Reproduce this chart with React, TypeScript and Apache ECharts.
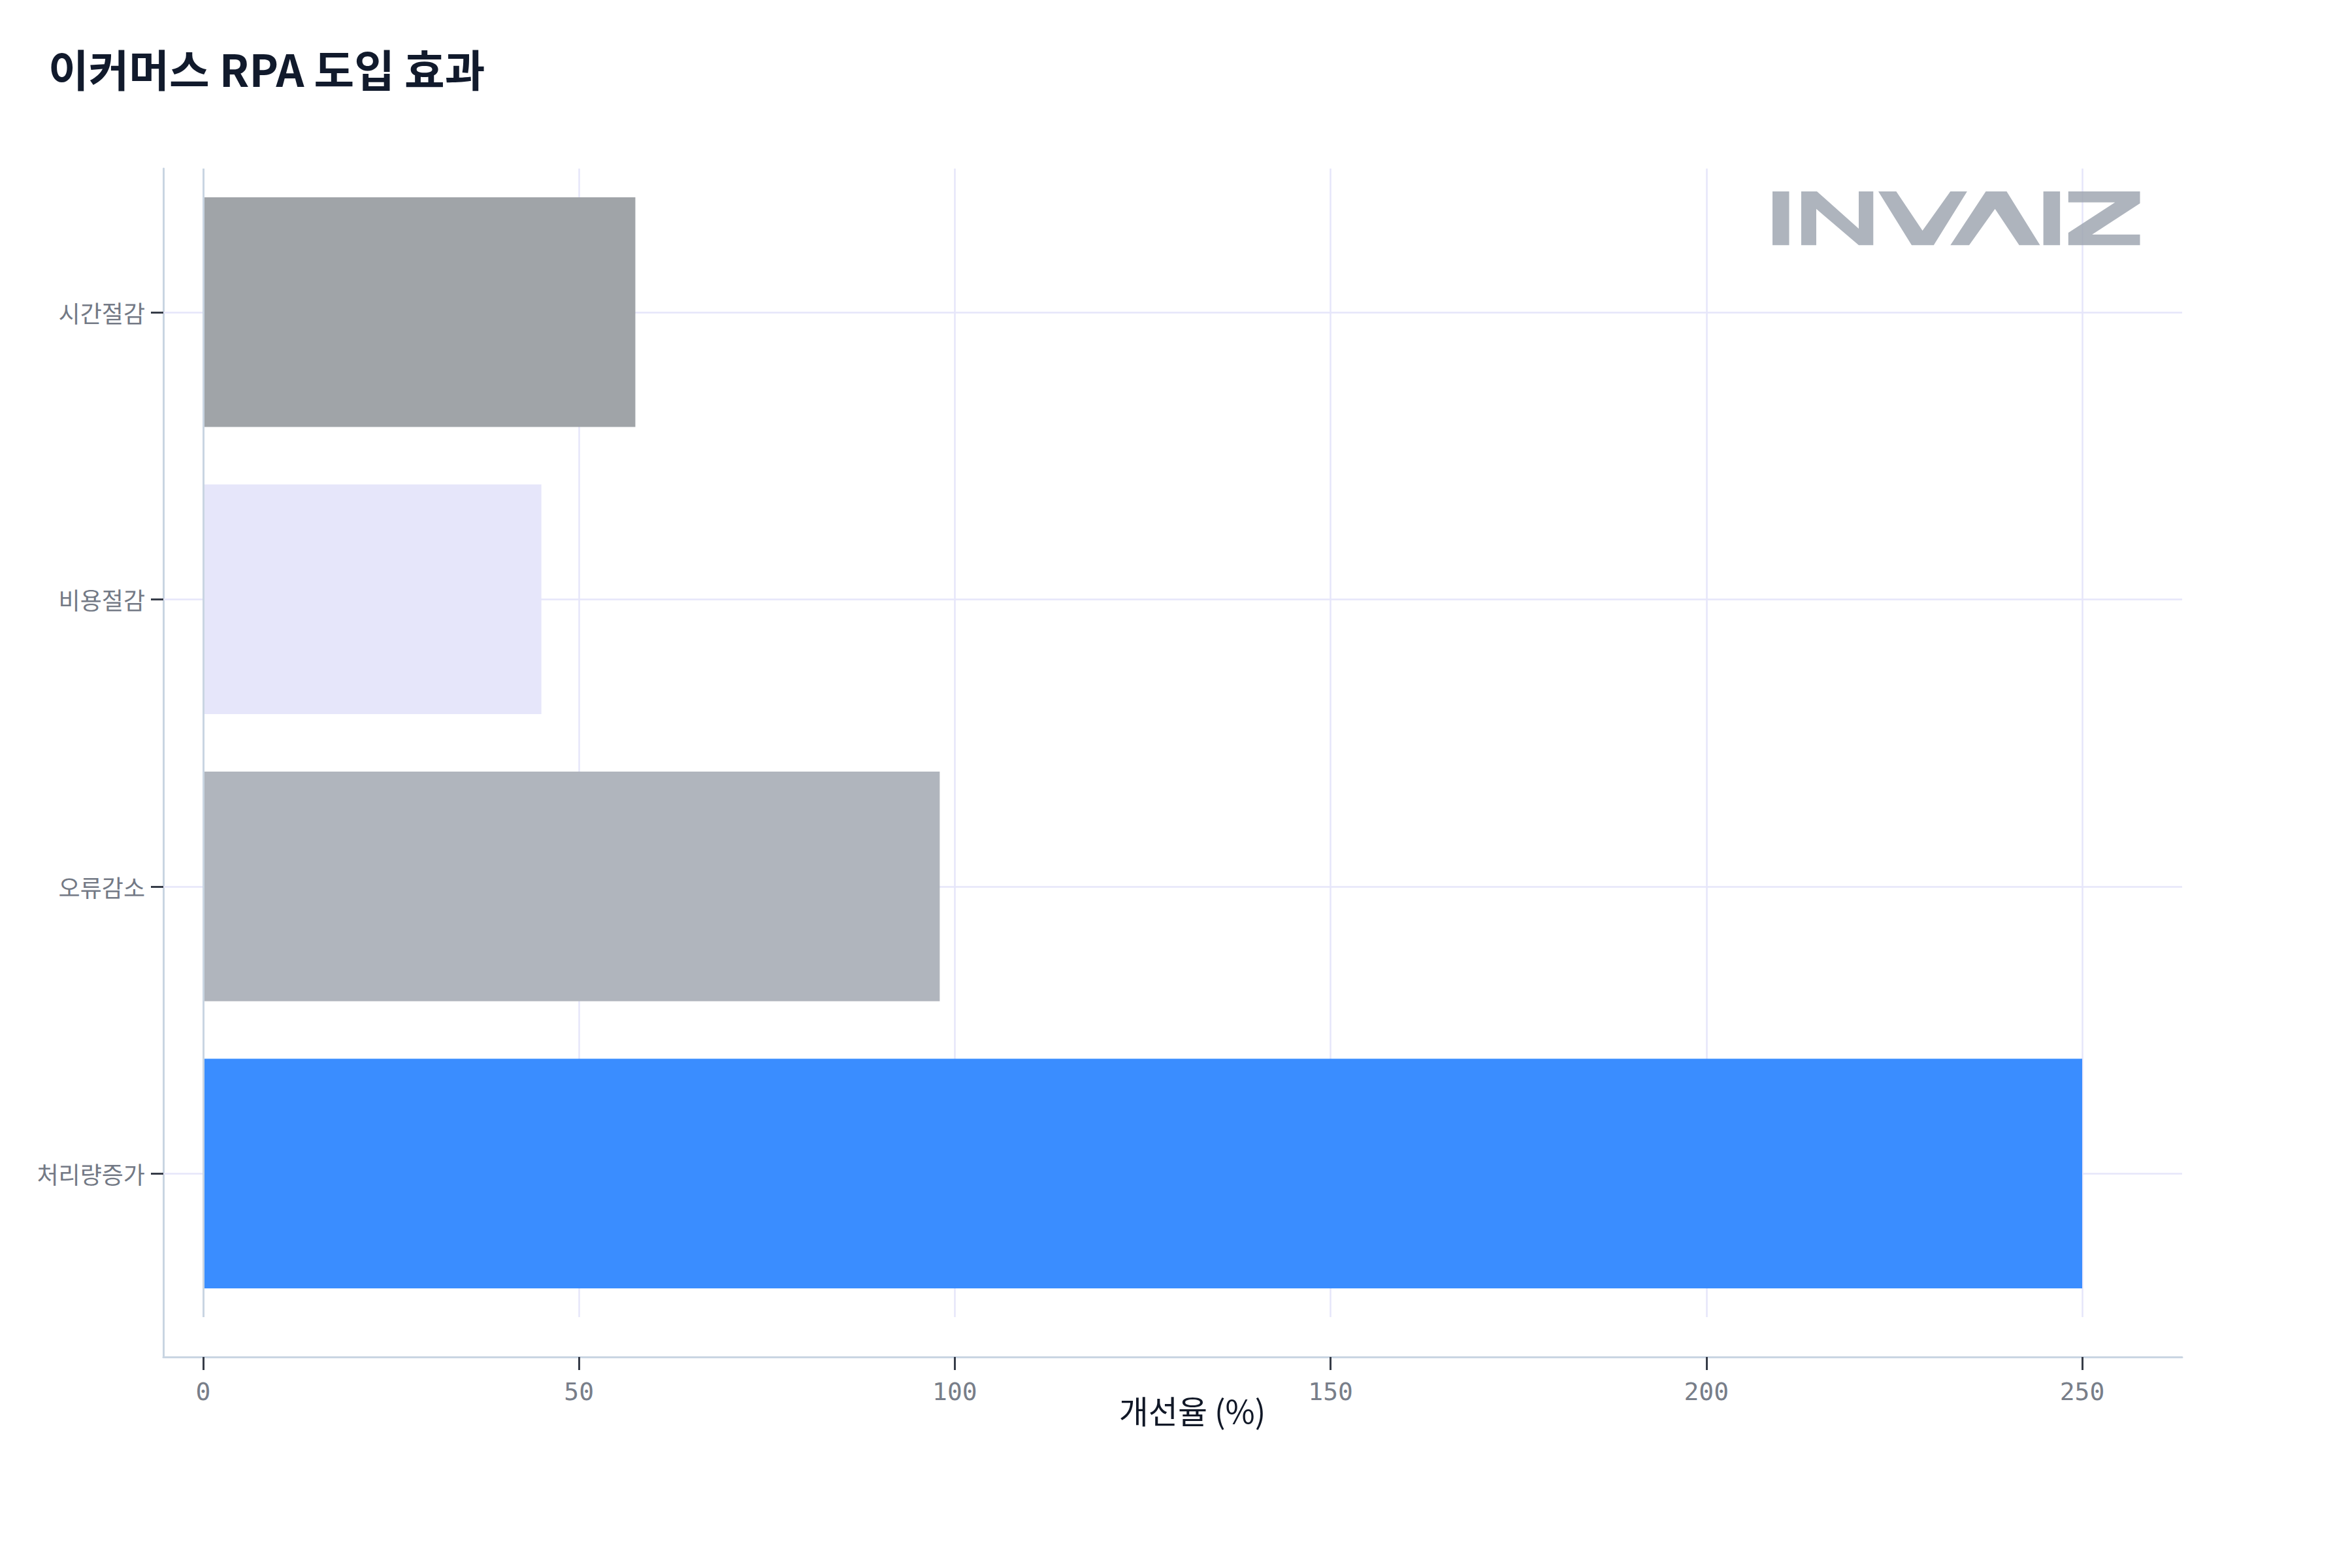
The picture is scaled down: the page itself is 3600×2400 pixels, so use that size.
import React, { useEffect, useRef } from "react";
import * as echarts from "echarts";

const titleText = "이커머스 RPA 도입 효과";
const xAxisTitle = "개선율 (%)";
const categories = ["시간절감", "비용절감", "오류감소", "처리량증가"];
const values = [57.5, 45, 98, 250];
const barColors = ["#A0A4A8", "#E6E6FA", "#B0B5BD", "#3A8DFF"];
const xTicks = [0, 50, 100, 150, 200, 250];
const xRange = [-5.3, 263.3];
const logoText = "INVAIZ";

const logoPolys: number[][][] = [
  [[0, 0], [25.5, 0], [25.5, 82.3], [0, 82.3]],
  [[44, 0], [68, 0], [132, 57], [132, 0], [154.3, 0], [154.3, 82.3], [132, 82.3], [67, 26.7], [67, 82.3], [44, 82.3]],
  [[162, 0], [189.4, 0], [229.6, 60], [272.3, 0], [297.9, 0], [246.8, 82.3], [213, 82.3]],
  [[326.5, 0], [358.4, 0], [409.5, 82.3], [377.6, 82.3], [340.6, 26.7], [301, 82.3], [272.3, 82.3]],
  [[414.6, 0], [440.1, 0], [440.1, 82.3], [414.6, 82.3]],
  [[452.8, 0], [562.5, 0], [562.5, 18.3], [489.2, 66], [562.5, 66], [562.5, 82.3], [452.8, 82.3], [452.8, 63.3], [524.3, 16.7], [452.8, 16.7]],
];

let logoRegistered = false;
function registerLogo() {
  if (logoRegistered) return;
  const d = logoPolys
    .map((p) => "M" + p.map((q) => q[0] + " " + q[1]).join(" L") + " Z")
    .join(" ");
  echarts.graphic.registerShape("invaizLogo", echarts.graphic.extendPath(d, {}) as any);
  logoRegistered = true;
}

const FONT = "'Noto Sans CJK KR', 'Noto Sans', sans-serif";
const GRID_COLOR = "#E6E6FA";
const FRAME_COLOR = "#C9D5E2";
const TICK_COLOR = "#363C48";

export default function App() {
  const ref = useRef<HTMLDivElement>(null);
  useEffect(() => {
    document.body.style.margin = "0";
    registerLogo();
    const chart = echarts.init(ref.current!, null, { renderer: "svg" });
    const option: any = {
      animation: false,
      backgroundColor: "#ffffff",
      title: {
        text: titleText,
        left: 74,
        top: 70,
        padding: 0,
        textStyle: { fontFamily: FONT, fontSize: 67, fontWeight: "bold", color: "#111A2C" },
      },
      grid: [
        { left: 250, top: 258, width: 3090, height: 1758, containLabel: false },
        { left: 250, top: 258, width: 3090, height: 1819, containLabel: false },
      ],
      xAxis: [
        {
          type: "value",
          gridIndex: 0,
          min: xRange[0],
          max: xRange[1],
          axisLine: { show: false, onZero: false },
          axisTick: { show: false },
          axisLabel: { show: false },
          splitLine: { show: false },
        },
        {
          type: "value",
          gridIndex: 1,
          min: xRange[0],
          max: xRange[1],
          axisLine: { show: true, onZero: false, lineStyle: { color: FRAME_COLOR, width: 3 } },
          axisTick: {
            show: true,
            customValues: xTicks,
            length: 20,
            lineStyle: { color: TICK_COLOR, width: 3 },
          },
          axisLabel: {
            show: true,
            customValues: xTicks,
            margin: 34,
            fontFamily: "'DejaVu Sans Mono', monospace",
            fontSize: 38,
            color: "#787E89",
          },
          splitLine: { show: false },
        },
      ],
      yAxis: [
        {
          type: "category",
          gridIndex: 0,
          inverse: true,
          data: categories,
          position: "left",
          axisLine: { show: false, onZero: false },
          axisTick: {
            show: true,
            inside: false,
            alignWithLabel: true,
            length: 19,
            lineStyle: { color: TICK_COLOR, width: 3, opacity: 1 },
          },
          axisLabel: { margin: 28, fontFamily: FONT, fontSize: 36, color: "#737985" },
          splitLine: { show: false },
        },
        {
          type: "value",
          gridIndex: 1,
          min: 0,
          max: 1,
          axisLine: { show: true, onZero: false, lineStyle: { color: FRAME_COLOR, width: 3 } },
          axisTick: { show: false },
          axisLabel: { show: false },
          splitLine: { show: false },
        },
      ],
      series: [
        {
          type: "bar",
          xAxisIndex: 0,
          yAxisIndex: 0,
          barCategoryGap: "20%",
          data: values.map((v, i) => ({ value: v, itemStyle: { color: barColors[i] } })),
          z: 2,
          markLine: {
            z: 1,
            silent: true,
            symbol: "none",
            label: { show: false },
            lineStyle: { color: GRID_COLOR, width: 2.5, type: "solid" },
            data: [
              ...categories.map((c) => ({ yAxis: c })),
              ...xTicks.filter((t) => t !== 0).map((t) => ({ xAxis: t })),
            ],
          },
        },
        {
          type: "scatter",
          xAxisIndex: 0,
          yAxisIndex: 0,
          data: [],
          markLine: {
            z: 6,
            silent: true,
            symbol: "none",
            label: { show: false },
            lineStyle: { color: FRAME_COLOR, width: 3, type: "solid" },
            data: [{ xAxis: 0 }],
          },
        },
      ],
      graphic: [
        {
          type: "text",
          x: 1825,
          y: 2157,
          z: 10,
          style: {
            text: xAxisTitle,
            fontFamily: FONT,
            fontSize: 49,
            fill: "#111827",
            align: "center",
            verticalAlign: "middle",
          },
        },
        {
          type: "invaizLogo",
          name: logoText,
          x: 2713,
          y: 293,
          z: 10,
          style: { fill: "#9CA3AF", opacity: 0.82 },
        },
      ],
    };
    chart.setOption(option);
    return () => chart.dispose();
  }, []);
  return <div ref={ref} style={{ width: 3600, height: 2400 }} />;
}
